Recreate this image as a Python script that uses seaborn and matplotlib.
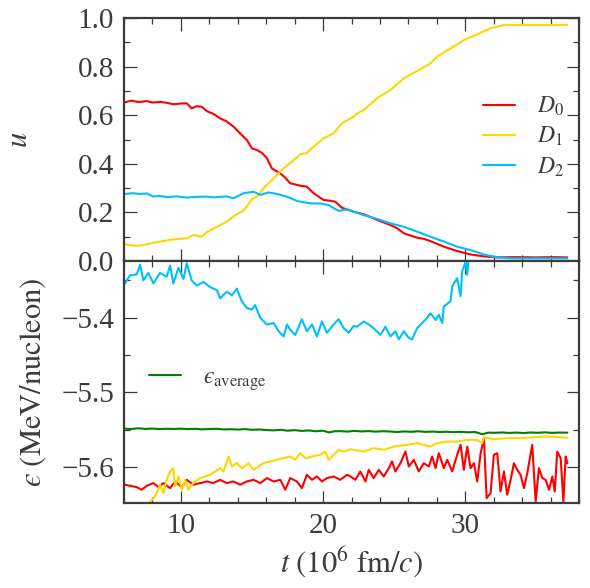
import numpy as np
import pandas as pd
import matplotlib
matplotlib.use("Agg")
import matplotlib.pyplot as plt
from matplotlib.ticker import MultipleLocator
import seaborn as sns

# ---------------- data ----------------
# top panel: occupation u of D0, D1, D2 vs t (10^6 fm/c)
t_u_D0 = [6.07, 6.5, 7.0, 7.60, 8.0, 8.53, 9.0, 9.47, 10.0, 10.41, 10.76, 11.1, 11.47, 11.82,
          12.3, 12.76, 13.2, 13.70, 14.17, 14.64, 14.99, 15.34, 15.7, 16.05, 16.40, 16.98,
          17.3, 17.69, 18.39, 18.86, 19.33, 20.04, 20.5, 20.86, 21.33, 22.15, 22.86, 23.3,
          23.80, 24.74, 25.2, 25.68, 26.61, 27.1, 27.55, 28.49, 29.43, 30.37, 31.31, 32.25,
          33.5, 35.0, 36.2, 37.18]
u_D0 = [0.653, 0.660, 0.654, 0.658, 0.652, 0.655, 0.651, 0.645, 0.648, 0.649, 0.628, 0.637,
        0.635, 0.617, 0.605, 0.587, 0.575, 0.553, 0.525, 0.498, 0.464, 0.457, 0.445, 0.423,
        0.381, 0.361, 0.345, 0.320, 0.310, 0.306, 0.279, 0.251, 0.248, 0.244, 0.219, 0.203,
        0.192, 0.182, 0.169, 0.148, 0.135, 0.114, 0.096, 0.091, 0.082, 0.059, 0.041, 0.027,
        0.019, 0.015, 0.016, 0.015, 0.016, 0.015]

t_u_D1 = [6.07, 6.89, 7.60, 8.53, 9.47, 10.41, 10.88, 11.47, 11.82, 12.53, 13.23, 13.82,
          14.29, 14.64, 14.99, 15.34, 15.81, 16.28, 16.75, 17.22, 17.81, 18.39, 18.86, 19.33,
          20.04, 20.74, 21.33, 22.15, 22.39, 22.86, 23.80, 24.74, 25.68, 26.61, 27.55, 28.02,
          28.96, 29.90, 30.84, 31.78, 32.72, 34.0, 35.5, 37.18]
u_D1 = [0.069, 0.062, 0.069, 0.080, 0.089, 0.093, 0.107, 0.100, 0.118, 0.141, 0.162, 0.189,
        0.203, 0.224, 0.255, 0.265, 0.299, 0.326, 0.354, 0.381, 0.409, 0.439, 0.445, 0.470,
        0.505, 0.525, 0.567, 0.594, 0.608, 0.621, 0.670, 0.704, 0.752, 0.782, 0.813, 0.841,
        0.875, 0.909, 0.933, 0.958, 0.971, 0.972, 0.971, 0.972]

t_u_D2 = [6.07, 6.6, 7.13, 7.6, 8.07, 8.5, 9.00, 9.7, 10.41, 11.1, 11.82, 12.3, 12.76, 13.2,
          13.70, 14.40, 15.11, 15.58, 16.16, 16.75, 17.46, 18.16, 19.10, 19.80, 20.39, 21.09,
          21.68, 22.15, 22.86, 23.80, 24.74, 25.68, 26.61, 27.55, 28.49, 29.43, 30.37, 31.31,
          32.25, 33.19, 35.0, 37.18]
u_D2 = [0.276, 0.279, 0.276, 0.278, 0.265, 0.268, 0.263, 0.266, 0.261, 0.264, 0.265, 0.262,
        0.264, 0.266, 0.258, 0.279, 0.285, 0.272, 0.282, 0.276, 0.265, 0.247, 0.237, 0.237,
        0.230, 0.206, 0.213, 0.203, 0.189, 0.173, 0.155, 0.141, 0.121, 0.100, 0.080, 0.059,
        0.045, 0.027, 0.015, 0.011, 0.011, 0.011]

# bottom panel: energy per nucleon (MeV/nucleon)
t_e_D0 = [6.07, 6.42, 6.89, 7.24, 7.60, 8.07, 8.42, 8.77, 9.24, 9.59, 10.06, 10.41, 10.88,
          11.35, 11.82, 12.29, 12.76, 13.23, 13.70, 14.17, 14.64, 15.11, 15.58, 16.05, 16.52,
          16.99, 17.34, 17.69, 18.16, 18.51, 18.86, 19.22, 19.57, 19.92, 20.27, 20.74, 21.21,
          21.68, 21.92, 22.27, 22.62, 22.98, 23.21, 23.56, 23.92, 24.27, 24.62, 24.85, 25.09,
          25.44, 25.79, 26.03, 26.38, 26.73, 27.08, 27.44, 27.67, 27.91, 28.14, 28.49, 28.73,
          29.08, 29.43, 29.67, 29.90, 30.14, 30.37, 30.61, 30.84, 31.08, 31.31, 31.50, 31.78,
          32.01, 32.25, 32.48, 32.72, 32.95, 33.19, 33.42, 33.66, 33.89, 34.13, 34.36, 34.71,
          34.95, 35.18, 35.42, 35.65, 35.89, 36.12, 36.29, 36.47, 36.71, 36.90, 37.06, 37.18]
e_D0 = [-5.6236, -5.6250, -5.6268, -5.6303, -5.6250, -5.6214, -5.6268, -5.6214, -5.6281,
        -5.6192, -5.6268, -5.6170, -5.6236, -5.6214, -5.6192, -5.6214, -5.6170, -5.6214,
        -5.6192, -5.6236, -5.6192, -5.6170, -5.6214, -5.6147, -5.6192, -5.6170, -5.6303,
        -5.6147, -5.6192, -5.6281, -5.6103, -5.6170, -5.6125, -5.6192, -5.6147, -5.6125,
        -5.6170, -5.6103, -5.6125, -5.6170, -5.6058, -5.6192, -5.6036, -5.6147, -5.6036,
        -5.6125, -5.6014, -5.5924, -5.6058, -5.5947, -5.5791, -5.5991, -5.5902, -5.6058,
        -5.5947, -5.5991, -5.5858, -5.6014, -5.5813, -5.6014, -5.5902, -5.6058, -5.5835,
        -5.5702, -5.6036, -5.5724, -5.6014, -5.5947, -5.6192, -5.5813, -5.5612, -5.6415,
        -5.6348, -5.5835, -5.5813, -5.6326, -5.6058, -5.6370, -5.6170, -5.5947, -5.6036,
        -5.6103, -5.6281, -5.6080, -5.5702, -5.6459, -5.6014, -5.6147, -5.6170, -5.6303,
        -5.6125, -5.6326, -5.5791, -5.5880, -5.6459, -5.5858, -5.5950]

t_e_D1 = [6.07, 6.60, 7.10, 7.60, 8.07, 8.30, 8.53, 8.77, 9.00, 9.24, 9.47, 9.59, 9.83,
          10.06, 10.30, 10.53, 10.77, 11.00, 11.35, 11.70, 12.06, 12.41, 12.76, 12.99, 13.35,
          13.58, 13.93, 14.29, 14.76, 15.11, 15.46, 15.81, 16.28, 16.75, 17.22, 17.69, 18.04,
          18.39, 18.75, 19.22, 19.80, 20.15, 20.39, 20.74, 21.09, 21.45, 21.92, 22.86, 23.56,
          24.27, 24.97, 25.91, 26.61, 27.55, 28.02, 28.73, 29.43, 30.14, 30.84, 31.19, 31.31,
          32.01, 32.95, 33.89, 34.83, 35.77, 36.71, 37.18]
e_D1 = [-5.665, -5.660, -5.648, -5.652, -5.6415, -5.6348, -5.6236, -5.6348, -5.6170,
        -5.6058, -5.6014, -5.6259, -5.6125, -5.6303, -5.6170, -5.6303, -5.6236, -5.6192,
        -5.6147, -5.6125, -5.6103, -5.6058, -5.6014, -5.6058, -5.5858, -5.5991, -5.5947,
        -5.6014, -5.5947, -5.6036, -5.5991, -5.5947, -5.5924, -5.5902, -5.5880, -5.5858,
        -5.5902, -5.5813, -5.5880, -5.5858, -5.5835, -5.5791, -5.5902, -5.5835, -5.5768,
        -5.5791, -5.5760, -5.5791, -5.5746, -5.5768, -5.5724, -5.5702, -5.5679, -5.5724,
        -5.5679, -5.5657, -5.5657, -5.5635, -5.5635, -5.5679, -5.5599, -5.5626, -5.5612,
        -5.5612, -5.5599, -5.5590, -5.5599, -5.5604]

t_e_D2 = [6.07, 6.42, 6.89, 7.13, 7.36, 7.71, 8.07, 8.53, 9.00, 9.24, 9.47, 9.83, 10.18,
          10.41, 10.76, 11.12, 11.59, 12.06, 12.53, 12.76, 13.23, 13.58, 13.93, 14.29, 14.64,
          14.99, 15.22, 15.58, 16.05, 16.52, 16.87, 17.22, 17.46, 17.69, 18.04, 18.51, 18.86,
          19.22, 19.57, 19.92, 20.27, 20.74, 21.09, 21.45, 21.80, 22.15, 22.39, 22.86, 23.21,
          23.56, 24.03, 24.38, 24.74, 25.09, 25.32, 25.68, 26.03, 26.26, 26.61, 26.97, 27.32,
          27.55, 27.91, 28.14, 28.38, 28.49, 28.96, 29.08, 29.43, 29.67, 29.78, 30.02, 30.14,
          30.32, 30.49]
e_D2 = [-5.354, -5.343, -5.342, -5.329, -5.350, -5.340, -5.354, -5.340, -5.345, -5.330,
        -5.354, -5.333, -5.348, -5.327, -5.350, -5.357, -5.352, -5.359, -5.363, -5.374,
        -5.365, -5.370, -5.361, -5.378, -5.387, -5.389, -5.383, -5.400, -5.409, -5.407,
        -5.418, -5.425, -5.409, -5.416, -5.423, -5.402, -5.418, -5.409, -5.425, -5.405,
        -5.420, -5.409, -5.402, -5.414, -5.420, -5.411, -5.412, -5.405, -5.409, -5.414,
        -5.423, -5.412, -5.425, -5.418, -5.429, -5.418, -5.427, -5.429, -5.414, -5.407,
        -5.400, -5.394, -5.403, -5.396, -5.407, -5.385, -5.378, -5.358, -5.347, -5.371,
        -5.338, -5.325, -5.3425, -5.300, -5.270]

t_e_avg = [6.07, 6.5, 7.0, 7.5, 8.0, 8.5, 9.0, 9.5, 10.0, 10.5, 11.0, 11.5, 12.0, 12.5,
           13.0, 13.5, 14.0, 14.5, 15.0, 15.5, 16.0, 16.5, 17.0, 17.5, 18.0, 18.5, 19.0,
           19.5, 20.0, 20.4, 20.8, 21.2, 21.7, 22.2, 22.7, 23.2, 23.7, 24.2, 24.7, 25.2,
           25.7, 26.2, 26.7, 27.2, 27.7, 28.2, 28.7, 29.2, 29.7, 30.2, 30.7, 31.2, 31.6,
           32.1, 32.6, 33.1, 33.6, 34.1, 34.6, 35.1, 35.6, 36.1, 36.6, 37.18]
e_avg = [-5.5485, -5.5490, -5.5480, -5.5488, -5.5484, -5.5490, -5.5486, -5.5489, -5.5485,
         -5.5491, -5.5487, -5.5494, -5.5490, -5.5486, -5.5495, -5.5492, -5.5497, -5.5491,
         -5.5500, -5.5496, -5.5503, -5.5508, -5.5500, -5.5512, -5.5505, -5.5515, -5.5509,
         -5.5520, -5.5512, -5.5535, -5.5520, -5.5518, -5.5524, -5.5515, -5.5522, -5.5517,
         -5.5525, -5.5519, -5.5523, -5.5530, -5.5522, -5.5527, -5.5520, -5.5528, -5.5524,
         -5.5530, -5.5526, -5.5532, -5.5527, -5.5534, -5.5530, -5.5560, -5.5538, -5.5540,
         -5.5536, -5.5542, -5.5537, -5.5543, -5.5536, -5.5540, -5.5534, -5.5541, -5.5537,
         -5.5538]

legend_top = [r"$D_0$", r"$D_1$", r"$D_2$"]
legend_bottom = "$\u03f5_{\\rm average}$"
xlabel = r"$t\ (10^6\ \mathrm{fm}/c)$"
ylabel_top = r"$u$"
ylabel_bottom = "$\u03f5\\ (\\mathrm{MeV/nucleon})$"

# ---------------- style ----------------
RED, GOLD, BLUE, GREEN = "#ff0000", "#ffd700", "#00bfff", "#008000"
DARK = "#3c3c3c"

sns.set_theme(style="ticks")
plt.rcParams.update({
    "font.family": ["Liberation Serif", "DejaVu Serif"],
    "mathtext.fontset": "stix",
    "axes.edgecolor": DARK,
    "axes.linewidth": 1.6,
    "xtick.color": DARK,
    "ytick.color": DARK,
    "text.color": DARK,
    "axes.labelcolor": DARK,
})

fig = plt.figure(figsize=(5.9, 5.88), dpi=100)
ax1 = fig.add_axes([0.2102, 0.5561, 0.7712, 0.4133])
ax2 = fig.add_axes([0.2102, 0.1446, 0.7712, 0.4115], sharex=ax1)

lw = 1.5
sns.lineplot(x=t_u_D0, y=u_D0, ax=ax1, color=RED, lw=lw, label=legend_top[0])
sns.lineplot(x=t_u_D1, y=u_D1, ax=ax1, color=GOLD, lw=lw, label=legend_top[1])
sns.lineplot(x=t_u_D2, y=u_D2, ax=ax1, color=BLUE, lw=lw, label=legend_top[2])

sns.lineplot(x=t_e_D0, y=e_D0, ax=ax2, color=RED, lw=lw)
sns.lineplot(x=t_e_D1, y=e_D1, ax=ax2, color=GOLD, lw=lw)
sns.lineplot(x=t_e_D2, y=e_D2, ax=ax2, color=BLUE, lw=lw)
sns.lineplot(x=t_e_avg, y=e_avg, ax=ax2, color=GREEN, lw=lw, label=legend_bottom)

ax1.set_xlim(6, 38)
ax1.set_ylim(0, 1.0)
ax2.set_ylim(-5.648, -5.324)

ax1.xaxis.set_major_locator(MultipleLocator(10))
ax1.xaxis.set_minor_locator(MultipleLocator(2))
ax1.yaxis.set_major_locator(MultipleLocator(0.2))
ax1.yaxis.set_minor_locator(MultipleLocator(0.1))
ax2.yaxis.set_major_locator(MultipleLocator(0.1))
ax2.yaxis.set_minor_locator(MultipleLocator(0.05))

for ax in (ax1, ax2):
    ax.tick_params(which="both", direction="in", top=True, right=True,
                   width=0.9, colors=DARK)
    ax.tick_params(which="major", length=9, labelsize=21, pad=7)
    ax.tick_params(which="minor", length=4.5)
    for s in ax.spines.values():
        s.set_color(DARK)
ax1.tick_params(labelbottom=False)

ax1.set_xlabel("")
ax1.set_ylabel(ylabel_top, fontsize=22)
ax1.yaxis.set_label_coords(-0.198, 0.5)
ax2.set_ylabel(ylabel_bottom, fontsize=22)
ax2.yaxis.set_label_coords(-0.167, 0.5)
ax2.set_xlabel(xlabel, fontsize=22, labelpad=4)

leg1 = ax1.legend(loc="center left", bbox_to_anchor=(0.789, 0.511), frameon=False,
                  fontsize=17, handlelength=1.35, handletextpad=0.95,
                  labelspacing=0.3, borderpad=0, borderaxespad=0)
leg2 = ax2.legend(loc="center left", bbox_to_anchor=(0.055, 0.508), frameon=False,
                  fontsize=17, handlelength=1.35, handletextpad=0.95,
                  borderpad=0, borderaxespad=0)
for leg in (leg1, leg2):
    for txt in leg.get_texts():
        txt.set_color(DARK)

fig.savefig("out.png", dpi=100)
